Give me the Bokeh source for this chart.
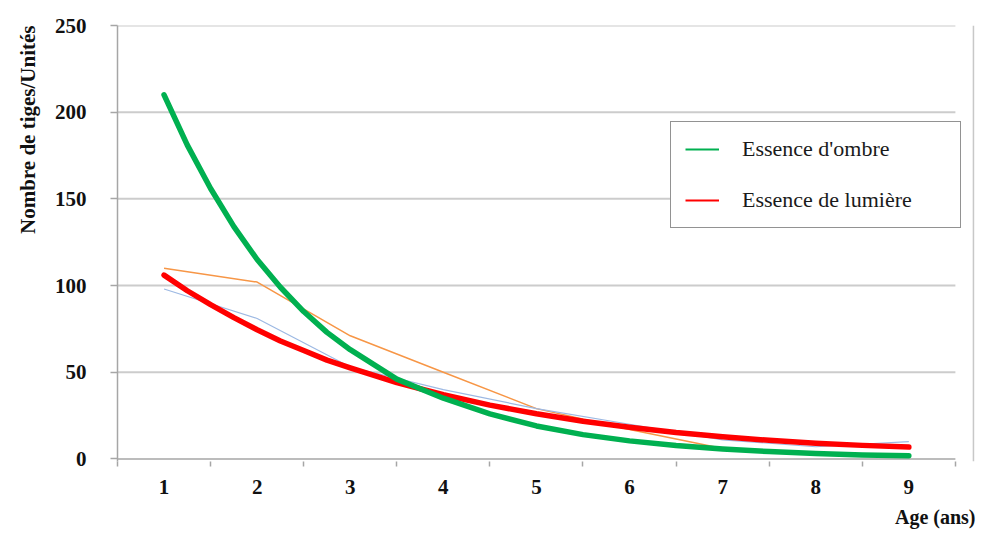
from bokeh.plotting import figure
from bokeh.models import Range1d, FixedTicker, Legend, LegendItem, Span, Title
from bokeh.embed import file_html
from bokeh.resources import INLINE

# ---- data ----
ages = [1, 2, 3, 4, 5, 6, 7, 8, 9]
curve_x = [1, 1.25, 1.5, 1.75, 2, 2.25, 2.5, 2.75, 3, 3.5, 4, 4.5, 5, 5.5, 6, 6.5, 7, 7.5, 8, 8.5, 9]
ombre_y = [210, 181, 156, 134, 115, 99, 85, 73, 63, 46, 35, 26, 19, 14, 10.4, 7.7, 5.7, 4.2, 3.1, 2.3, 1.8]
lumiere_y = [106, 97, 89, 81.5, 74.5, 68, 62.5, 57, 52.5, 44, 37, 31, 26, 21.7, 18.2, 15.2, 12.8, 10.7, 9, 7.8, 6.8]
obs_orange = [110, 102, 71, 50, 29, 17, 6, 3, 2]
obs_blue = [98, 81, 53, 40, 29, 20, 11, 7, 10]
y_ticks = [0, 50, 100, 150, 200, 250]
series_names = ["Essence d'ombre", "Essence de lumière"]
x_title = "Age (ans)"
y_title = "Nombre de tiges/Unités"

SERIF = "Liberation Serif"
GRID = "#cccccc"
AXIS = "#a6a6a6"
GREEN = "#00b050"
RED = "#ff0000"
TXT = "#111111"

p = figure(width=981, height=539, output_backend="svg", toolbar_location=None,
           x_range=Range1d(0.5, 9.716), y_range=Range1d(-1.5, 250),
           min_border_left=117, min_border_right=6, min_border_top=25,
           min_border_bottom=78)
p.outline_line_color = None
p.xgrid.visible = False
p.ygrid.visible = False
p.background_fill_color = "white"

x_lo = ages[0] - 0.5
x_hi = ages[-1] + 0.5
# horizontal gridlines (stop at the last category boundary)
p.segment(x0=[x_lo] * (len(y_ticks) - 1), y0=y_ticks[1:],
          x1=[x_hi] * (len(y_ticks) - 1), y1=y_ticks[1:],
          line_color=GRID, line_width=2)
# x axis baseline
p.segment(x0=[x_lo], y0=[0], x1=[x_hi], y1=[0], line_color=AXIS, line_width=1.5)
# right border of the chart area
p.add_layout(Span(location=9.694, dimension="height", line_color="#c8c8c8", line_width=1.5))

# thin observed lines
p.line(ages, obs_orange, line_color="#f79646", line_width=1.5)
p.line(ages, obs_blue, line_color="#9db9e3", line_width=1.2)
# thick fitted curves
p.line(curve_x, lumiere_y, line_color=RED, line_width=5.5, line_cap="round", line_join="round")
p.line(curve_x, ombre_y, line_color=GREEN, line_width=5.5, line_cap="round", line_join="round")

# axes
xa = p.xaxis[0]
xa.ticker = FixedTicker(ticks=ages, minor_ticks=[a - 0.5 for a in ages] + [x_hi])
xa.axis_line_color = None
xa.major_tick_line_color = None
xa.major_tick_out = 0
xa.major_tick_in = 0
xa.minor_tick_line_color = AXIS
xa.minor_tick_line_width = 1.5
xa.minor_tick_out = 5
xa.minor_tick_in = 0
xa.major_label_standoff = 13
xa.major_label_text_font = SERIF
xa.major_label_text_font_style = "bold"
xa.major_label_text_font_size = "21px"
xa.major_label_text_color = TXT

ya = p.yaxis[0]
ya.ticker = FixedTicker(ticks=y_ticks)
ya.axis_line_color = AXIS
ya.axis_line_width = 1.5
ya.major_tick_line_color = AXIS
ya.major_tick_line_width = 1.5
ya.major_tick_out = 7
ya.major_tick_in = 0
ya.minor_tick_line_color = None
ya.major_label_standoff = 24
ya.major_label_text_font = SERIF
ya.major_label_text_font_style = "bold"
ya.major_label_text_font_size = "21px"
ya.major_label_text_color = TXT

# axis titles (right-aligned: top of the y axis, right end of the x axis)
p.add_layout(Title(text=y_title, align="right", standoff=24,
                   text_font=SERIF, text_font_style="bold",
                   text_font_size="21px", text_color=TXT), "left")
p.add_layout(Title(text=x_title, align="right", standoff=15,
                   text_font=SERIF, text_font_style="bold",
                   text_font_size="20px", text_color=TXT), "below")

# legend with thin sample lines (renderers kept outside the visible range)
g_leg = p.line(x=[-10, -9], y=[-100, -100], line_color=GREEN, line_width=2)
r_leg = p.line(x=[-10, -9], y=[-100, -100], line_color=RED, line_width=2)
legend = Legend(items=[LegendItem(label=series_names[0], renderers=[g_leg]),
                       LegendItem(label=series_names[1], renderers=[r_leg])],
                location=(553, 233))
legend.border_line_color = "#262626"
legend.border_line_width = 1.5
legend.background_fill_color = "white"
legend.background_fill_alpha = 1
legend.label_text_font = SERIF
legend.label_text_font_size = "22px"
legend.label_text_color = "#1a1a1a"
legend.glyph_width = 34
legend.glyph_height = 24
legend.label_height = 24
legend.label_standoff = 23
legend.label_width = 204
legend.spacing = 25
legend.padding = 14
legend.margin = 0
p.add_layout(legend)

open("out.html", "w").write(file_html(p, INLINE))
